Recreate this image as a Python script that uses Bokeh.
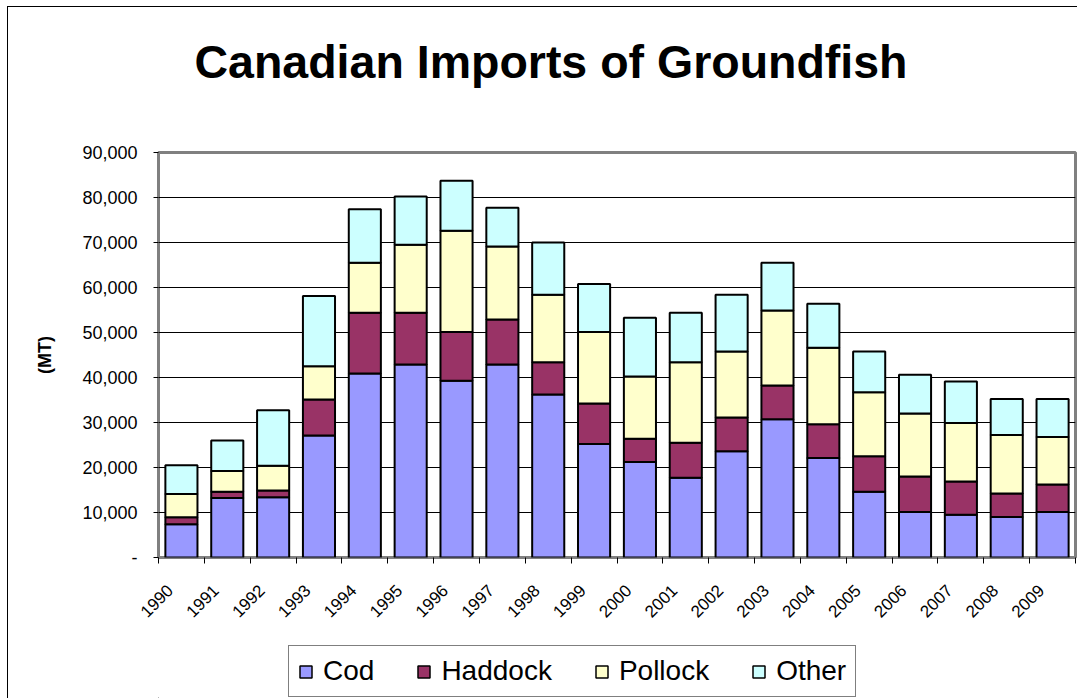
from math import pi
from bokeh.plotting import figure
from bokeh.layouts import column
from bokeh.models import ColumnDataSource, FixedTicker, NumeralTickFormatter, Legend, LegendItem
from bokeh.embed import file_html
from bokeh.resources import INLINE

# ---- data (metric tonnes) ----
years = [str(y) for y in range(1990, 2010)]
cod = [7400, 13200, 13400, 27100, 40900, 42900, 39300, 42900, 36200, 25200,
       21200, 17700, 23600, 30700, 22100, 14600, 10100, 9500, 9000, 10100]
haddock = [1550, 1400, 1500, 8000, 13500, 11500, 10800, 10000, 7200, 9000,
           5200, 7800, 7500, 7500, 7500, 7900, 7900, 7400, 5200, 6100]
pollock = [5150, 4600, 5500, 7400, 11100, 15100, 22500, 16200, 15000, 15900,
           13800, 17900, 14700, 16700, 17000, 14200, 14000, 13000, 13000, 10600]
other = [6400, 6800, 12300, 15600, 11900, 10700, 11100, 8600, 11600, 10700,
         13100, 11000, 12600, 10600, 9800, 9100, 8600, 9200, 8000, 8400]
series = ["Cod", "Haddock", "Pollock", "Other"]
colors = ["#9999FF", "#993366", "#FFFFCC", "#CCFFFF"]
y_ticks = list(range(0, 90001, 10000))

FONT = "Liberation Sans"
idx = list(range(len(years)))
source = ColumnDataSource(dict(x=idx, Cod=cod, Haddock=haddock, Pollock=pollock, Other=other))

p = figure(width=1069, height=633, x_range=(-0.5, len(years) - 0.5), y_range=(0, 90000),
           output_backend="svg", toolbar_location=None,
           min_border_left=150, min_border_right=2, min_border_top=145, min_border_bottom=83)

p.title.text = "Canadian Imports of Groundfish\n"
p.title.text_font = FONT
p.title.text_font_size = "46.5px"
p.title.text_font_style = "bold"
p.title.text_color = "black"
p.title.align = "left"
p.title.offset = 36
p.title.standoff = 26

renderers = p.vbar_stack(series, x="x", width=0.7, fill_color=colors, line_color="black",
                         line_width=2, source=source)

# y axis
p.yaxis.ticker = FixedTicker(ticks=y_ticks)
p.yaxis.formatter = NumeralTickFormatter(format="0,0")
p.yaxis.major_label_overrides = {0: "-"}
p.yaxis.major_label_text_font = FONT
p.yaxis.major_label_text_font_size = "18px"
p.yaxis.major_label_text_color = "black"
p.yaxis.major_tick_out = 5
p.yaxis.major_tick_in = 0
p.yaxis.major_tick_line_color = "black"
p.yaxis.minor_tick_line_color = None
p.yaxis.axis_line_color = None
p.yaxis.major_label_standoff = 16
p.yaxis.axis_label = "(MT)"
p.yaxis.axis_label_text_font = FONT
p.yaxis.axis_label_text_font_size = "18px"
p.yaxis.axis_label_text_font_style = "bold"
p.yaxis.axis_label_text_color = "black"
p.yaxis.axis_label_standoff = 24

# x axis: labels sit slightly left of each bar (invisible major ticks), boundary ticks as minor ticks
label_pos = [i - 0.25 for i in idx]
p.xaxis.ticker = FixedTicker(ticks=label_pos, minor_ticks=[i - 0.5 for i in range(len(years) + 1)])
p.xaxis.major_label_overrides = {pos: years[i] for i, pos in enumerate(label_pos)}
p.xaxis.major_label_orientation = pi / 4
p.xaxis.major_label_text_font = FONT
p.xaxis.major_label_text_font_size = "17px"
p.xaxis.major_label_text_color = "black"
p.xaxis.major_tick_out = 0
p.xaxis.major_tick_in = 0
p.xaxis.minor_tick_out = 6
p.xaxis.minor_tick_in = 0
p.xaxis.minor_tick_line_color = "black"
p.xaxis.axis_line_color = None
p.xaxis.major_label_standoff = 24

# grid & frame
p.xgrid.grid_line_color = None
p.ygrid.grid_line_color = "black"
p.ygrid.grid_line_width = 1
p.outline_line_color = "#808080"
p.outline_line_width = 3

# ---- legend strip (separate canvas so nothing clips it) ----
q = figure(width=1069, height=58, x_range=(100, 101), y_range=(100, 101),
           output_backend="svg", toolbar_location=None,
           x_axis_location=None, y_axis_location=None,
           min_border_left=0, min_border_right=0, min_border_top=0, min_border_bottom=0)
q.outline_line_color = None
q.grid.visible = False
# legend-only proxies: zero-size glyphs far outside the visible range
proxies = [q.vbar(x=[0], top=[0], width=0, fill_color=c, line_color="black", line_width=1.5)
           for c in colors]

legend = Legend(items=[LegendItem(label=s, renderers=[r]) for s, r in zip(series, proxies)],
                orientation="horizontal", location=(130, 1))
legend.label_text_font = FONT
legend.label_text_font_size = "28px"
legend.label_text_color = "black"
legend.glyph_width = 15
legend.glyph_height = 15
legend.label_standoff = 10
legend.spacing = 42
legend.padding = 9
legend.margin = 0
legend.border_line_color = "black"
legend.border_line_width = 1
legend.background_fill_alpha = 1
q.add_layout(legend, "center")

layout = column(p, q, spacing=0)
layout.styles = {"margin-left": "7px", "margin-top": "6px",
                 "border-left": "1px solid black", "border-top": "1px solid black"}

open("out.html", "w").write(file_html(layout, INLINE))
